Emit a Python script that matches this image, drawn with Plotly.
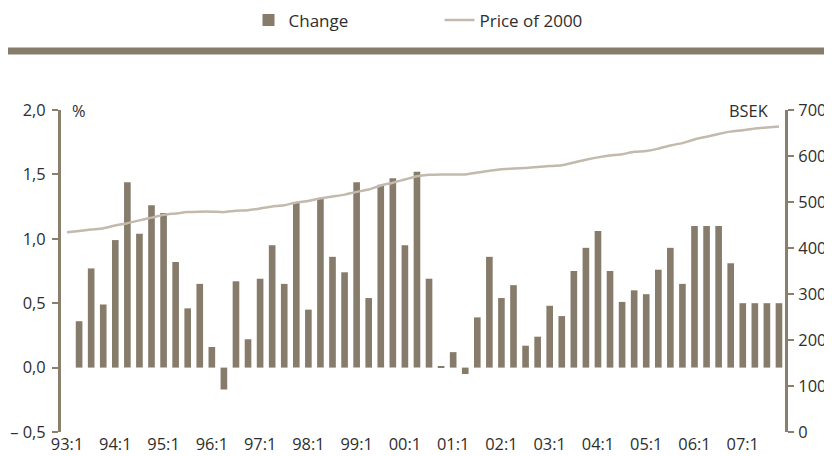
"""Quarterly change (%) with price of 2000 (BSEK) on a secondary axis."""

import plotly.graph_objects as go

# Colors
_BAR_COLOR = "#877c6b"
_LINE_COLOR = "#c3b9ac"
_AXIS_COLOR = "#8a7e6d"
_TEXT_COLOR = "#2e2e2e"
_FONT = "Open Sans"
_SIZE = 17
_TICK_SIZE = 16.4

# Data: quarters 93:1 .. 07:4
quarters = [f"{y % 100:02d}:{q}" for y in range(1993, 2008) for q in range(1, 5)]

# Change, % (starts 93:2)
change = [
    0.36, 0.77, 0.49, 0.99, 1.44, 1.04, 1.26, 1.20, 0.82, 0.46, 0.65, 0.16,
    -0.17, 0.67, 0.22, 0.69, 0.95, 0.65, 1.28, 0.45, 1.31, 0.86, 0.74, 1.44,
    0.54, 1.42, 1.47, 0.95, 1.52, 0.69, 0.01, 0.12, -0.05, 0.39, 0.86, 0.54,
    0.64, 0.17, 0.24, 0.48, 0.40, 0.75, 0.93, 1.06, 0.75, 0.51, 0.60, 0.57,
    0.76, 0.93, 0.65, 1.10, 1.10, 1.10, 0.81, 0.50, 0.50, 0.50, 0.50,
]

# Price of 2000, BSEK
price = [
    434, 437, 440, 443, 449, 454, 460, 466, 472, 475, 478, 479,
    479, 478, 481, 482, 486, 490, 493, 499, 502, 508, 512, 516,
    522, 527, 536, 542, 549, 556, 559, 560, 560, 560, 564, 568,
    571, 573, 574, 576, 578, 580, 586, 592, 597, 601, 604, 609,
    611, 616, 623, 628, 636, 642, 648, 653, 656, 660, 662, 664,
]

left_ticks = [-0.5, 0.0, 0.5, 1.0, 1.5, 2.0]
left_labels = ["– 0,5", "0,0", "0,5", "1,0", "1,5", "2,0"]
right_ticks = [0, 100, 200, 300, 400, 500, 600, 700]
x_ticks = quarters[::4]

fig = go.Figure()

fig.add_trace(
    go.Bar(
        x=quarters[1:],
        y=change,
        name="Change",
        marker=dict(color=_BAR_COLOR, line=dict(width=0)),
        width=0.55,
    )
)

fig.add_trace(
    go.Scatter(
        x=quarters,
        y=price,
        name="Price of 2000",
        mode="lines",
        line=dict(color=_LINE_COLOR, width=2.5, shape="spline", smoothing=0.6),
        yaxis="y2",
    )
)

axis_common = dict(
    showgrid=False,
    zeroline=False,
    showline=True,
    linecolor=_AXIS_COLOR,
    linewidth=3,
    ticks="outside",
    ticklen=6,
    tickwidth=2,
    tickcolor=_AXIS_COLOR,
    automargin=False,
    tickfont=dict(family=_FONT, size=_TICK_SIZE, color=_TEXT_COLOR),
)

# The page body adds an 8 px margin, so the figure is 8 px smaller each way
fig.update_layout(
    width=824,
    height=448,
    margin=dict(l=53, r=47, t=102, b=24, autoexpand=False),
    paper_bgcolor="white",
    plot_bgcolor="white",
    font=dict(family=_FONT, size=_SIZE, color=_TEXT_COLOR),
    xaxis=dict(
        type="category",
        categoryorder="array",
        categoryarray=quarters,
        range=[-0.5, 59.5],
        tickmode="array",
        tickvals=x_ticks,
        ticktext=x_ticks,
        showgrid=False,
        showline=False,
        zeroline=False,
        ticks="",
        ticklabelstandoff=1,
        automargin=False,
        tickfont=dict(family=_FONT, size=_TICK_SIZE, color=_TEXT_COLOR),
    ),
    yaxis=dict(
        range=[-0.5, 2.0],
        tickmode="array",
        tickvals=left_ticks,
        ticktext=left_labels,
        ticklabelstandoff=3,
        **axis_common,
    ),
    yaxis2=dict(
        range=[0, 700],
        tickmode="array",
        tickvals=right_ticks,
        overlaying="y",
        side="right",
        ticklabelstandoff=1,
        **axis_common,
    ),
    legend=dict(
        orientation="h",
        x=0.259,
        xanchor="left",
        y=1.278,
        yanchor="middle",
        font=dict(family=_FONT, size=_SIZE, color=_TEXT_COLOR),
        entrywidth=146,
        bgcolor="rgba(0,0,0,0)",
    ),
    showlegend=True,
)

# Heavy rule under the legend
fig.add_shape(
    type="rect",
    xref="paper",
    yref="paper",
    x0=-0.077,
    x1=1.059,
    y0=1.172,
    y1=1.194,
    fillcolor=_BAR_COLOR,
    line=dict(width=0),
    layer="above",
)

# Axis unit labels
fig.add_annotation(
    text="%", xref="paper", yref="paper", x=0.012, y=1.0,
    xanchor="left", yanchor="middle", showarrow=False,
    font=dict(family=_FONT, size=_TICK_SIZE, color=_TEXT_COLOR),
)
fig.add_annotation(
    text="BSEK", xref="paper", yref="paper", x=0.981, y=1.0,
    xanchor="right", yanchor="middle", showarrow=False,
    font=dict(family=_FONT, size=_TICK_SIZE, color=_TEXT_COLOR),
)

fig.write_html("out.html")
